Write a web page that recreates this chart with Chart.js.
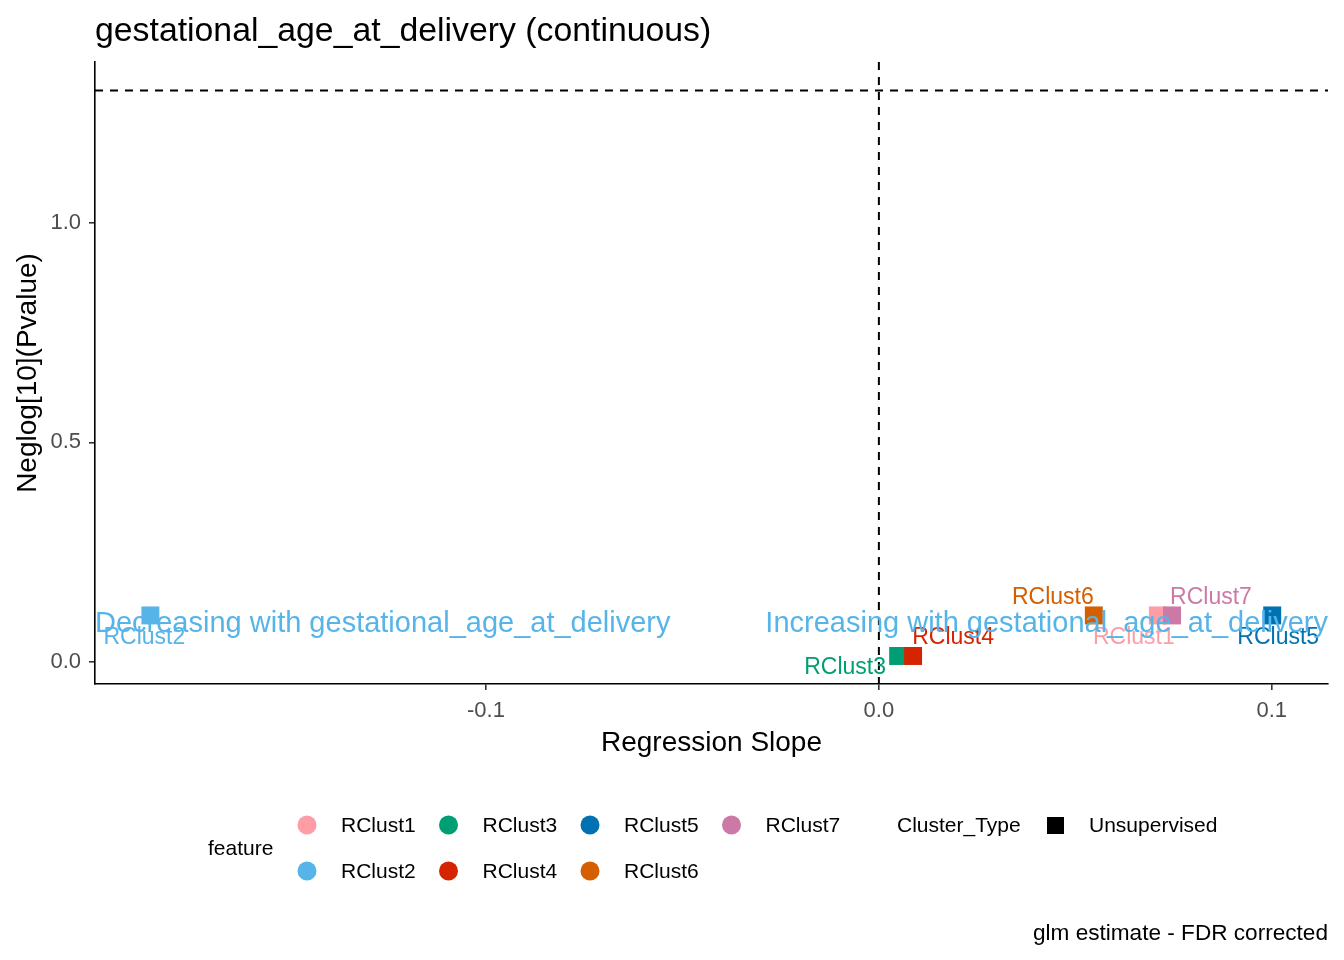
<!DOCTYPE html>
<html>
<head>
<meta charset="utf-8">
<title>gestational_age_at_delivery (continuous)</title>
<script src="https://cdn.jsdelivr.net/npm/chart.js@4.4.1/dist/chart.umd.min.js"></script>
<style>
  html, body { margin: 0; padding: 0; background: #ffffff; }
  canvas { display: block; }
</style>
</head>
<body>
<canvas id="volcano" width="1344" height="960"></canvas>
<script>
// data
const features = ["RClust1", "RClust2", "RClust3", "RClust4", "RClust5", "RClust6", "RClust7"];
const slopes = [0.071, -0.1854, 0.0049, 0.0087, 0.1001, 0.0547, 0.0746];
const negLogP = [0.106, 0.106, 0.0137, 0.0137, 0.106, 0.106, 0.106];
const featureColors = ["#FF9DA7", "#56B4E9", "#009E73", "#D52500", "#0072B2", "#D55E00", "#CC79A7"];
const clusterTypes = ["Unsupervised"];

const xTicks = [-0.1, 0.0, 0.1];
const yTicks = [0.0, 0.5, 1.0];
const xRange = [-0.1995, 0.1143];
const yRange = [-0.0501, 1.366];
const pThreshold = -Math.log10(0.05); // dashed horizontal line
const slopeZero = 0;                   // dashed vertical line
const annoY = 0.086;
const annoLeft = "Decreasing with gestational_age_at_delivery";
const annoRight = "Increasing with gestational_age_at_delivery";

// where the repelled labels sit, relative to their point (px)
const labelNudge = [[-24, 22], [-6, 22], [-53, 12], [40, -18], [6, 22], [-41, -18], [39, -18]];

const FONT = "'Liberation Sans', Arial, sans-serif";
const canvas = document.getElementById("volcano");

// dashed reference lines under the points
const refLines = {
  id: "refLines",
  beforeDatasetsDraw(chart) {
    const { ctx, chartArea: a, scales: { x, y } } = chart;
    ctx.save();
    ctx.strokeStyle = "#000000";
    ctx.lineWidth = 2;
    ctx.setLineDash([8, 7]);
    const hy = y.getPixelForValue(pThreshold);
    ctx.beginPath();
    ctx.moveTo(a.left, hy);
    ctx.lineTo(a.right, hy);
    ctx.stroke();
    const vx = x.getPixelForValue(slopeZero);
    ctx.beginPath();
    ctx.moveTo(vx, a.top);
    ctx.lineTo(vx, a.bottom);
    ctx.stroke();
    ctx.restore();
  }
};

// point labels, direction text, title, legend and caption
const textLayer = {
  id: "textLayer",
  afterDatasetsDraw(chart) {
    const { ctx, scales: { x, y } } = chart;
    ctx.save();
    ctx.textBaseline = "middle";
    ctx.textAlign = "center";
    ctx.font = "23px " + FONT;
    features.forEach((f, i) => {
      const px = x.getPixelForValue(slopes[i]);
      const py = y.getPixelForValue(negLogP[i]);
      ctx.fillStyle = featureColors[i];
      ctx.fillText(f, px + labelNudge[i][0], py + labelNudge[i][1]);
    });

    ctx.font = "29px " + FONT;
    ctx.fillStyle = "#56B4E9";
    const ay = y.getPixelForValue(annoY);
    ctx.textAlign = "left";
    ctx.fillText(annoLeft, x.getPixelForValue(xRange[0]), ay);
    ctx.textAlign = "right";
    ctx.fillText(annoRight, x.getPixelForValue(xRange[1]), ay);
    ctx.restore();
  },
  afterDraw(chart) {
    const { ctx } = chart;
    ctx.save();
    ctx.fillStyle = "#000000";
    ctx.textAlign = "left";
    ctx.textBaseline = "alphabetic";
    ctx.font = "33.8px " + FONT;
    ctx.fillText("gestational_age_at_delivery (continuous)", 95, 41);

    ctx.textBaseline = "middle";
    ctx.font = "21px " + FONT;
    ctx.fillText("feature", 208, 849);
    features.forEach((f, i) => {
      const cx = 307 + Math.floor(i / 2) * 141.5;
      const cy = 825 + (i % 2) * 46;
      ctx.fillStyle = featureColors[i];
      ctx.beginPath();
      ctx.arc(cx, cy, 9.5, 0, Math.PI * 2);
      ctx.fill();
      ctx.fillStyle = "#000000";
      ctx.fillText(f, cx + 34, cy + 1);
    });
    ctx.fillText("Cluster_Type", 897, 826);
    clusterTypes.forEach((t, i) => {
      ctx.fillRect(1047, 817 + i * 46, 17, 17);
      ctx.fillText(t, 1089, 826 + i * 46);
    });

    ctx.textAlign = "right";
    ctx.font = "22.6px " + FONT;
    ctx.fillText("glm estimate - FDR corrected", 1328, 934);
    ctx.restore();
  }
};

new Chart(canvas, {
  type: "scatter",
  data: {
    labels: features,
    datasets: [{
      label: "feature",
      data: slopes.map((s, i) => ({ x: s, y: negLogP[i] })),
      backgroundColor: featureColors,
      borderWidth: 0,
      pointStyle: "rect",
      pointRadius: 12.7,
      pointHoverRadius: 12.7
    }]
  },
  options: {
    responsive: false,
    animation: false,
    devicePixelRatio: 1,
    layout: { autoPadding: false, padding: { left: 0, top: 62, right: 16, bottom: 200 } },
    plugins: {
      legend: { display: false },
      tooltip: { enabled: false },
      title: { display: false }
    },
    scales: {
      x: {
        type: "linear",
        min: xRange[0],
        max: xRange[1],
        afterFit: (s) => { s.height = 76; },
        afterBuildTicks: (s) => { s.ticks = xTicks.map(v => ({ value: v })); },
        border: { display: true, color: "#000000", width: 1.6 },
        grid: { drawOnChartArea: false, drawTicks: true, tickLength: 6, color: "#333333", lineWidth: 1.6 },
        ticks: {
          padding: 8,
          color: "#4D4D4D",
          font: { family: FONT, size: 22 },
          callback: (v) => v.toFixed(1)
        },
        title: {
          display: true,
          text: "Regression Slope",
          color: "#000000",
          font: { family: FONT, size: 28 },
          padding: { top: 0, bottom: 0 }
        }
      },
      y: {
        type: "linear",
        min: yRange[0],
        max: yRange[1],
        afterFit: (s) => { s.width = 95; },
        afterBuildTicks: (s) => { s.ticks = yTicks.map(v => ({ value: v })); },
        border: { display: true, color: "#000000", width: 1.6 },
        grid: { drawOnChartArea: false, drawTicks: true, tickLength: 6, color: "#333333", lineWidth: 1.6 },
        ticks: {
          padding: 8,
          color: "#4D4D4D",
          font: { family: FONT, size: 22 },
          callback: (v) => v.toFixed(1)
        },
        title: {
          display: true,
          text: "Neglog[10](Pvalue)",
          color: "#000000",
          font: { family: FONT, size: 28 },
          padding: { top: 11, bottom: 0 }
        }
      }
    }
  },
  plugins: [refLines, textLayer]
});
</script>
</body>
</html>
